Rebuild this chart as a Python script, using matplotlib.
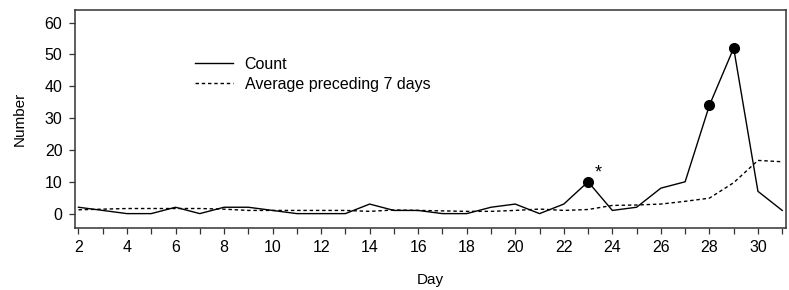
import numpy as np
import matplotlib
matplotlib.use('Agg')
import matplotlib.pyplot as plt

# days 2..31
days = list(range(2, 32))
count = [2, 1, 0, 0, 2, 0, 2, 2, 1, 0, 0, 0, 3, 1, 1,
         0, 0, 2, 3, 0, 3, 10, 1, 2, 8, 10, 34, 52, 7, 1]
avg7 = [1.2, 1.4, 1.6, 1.6, 1.6, 1.6, 1.4, 1.0, 1.0, 1.0, 1.0, 1.0, 0.71, 1.14, 1.0,
        0.86, 0.71, 0.71, 1.0, 1.43, 1.0, 1.29, 2.57, 2.71, 3.0, 3.86, 4.86, 9.71, 16.71, 16.29]
flag_days = [23, 28, 29]
star_day = 23
xlabels = [str(d) if d % 2 == 0 else '' for d in days]

plt.rcParams['font.family'] = ['Liberation Sans', 'DejaVu Sans']
plt.rcParams['font.size'] = 11

fig = plt.figure(figsize=(7.89, 2.90), dpi=100)
ax = fig.add_axes([0.095, 0.214, 0.901, 0.752])

ax.plot(days, count, color='black', lw=1.0, label='Count')
ax.plot(days, avg7, color='black', lw=1.0, dashes=(2.5, 2), label='Average preceding 7 days')
fy = [count[days.index(d)] for d in flag_days]
ax.plot(flag_days, fy, 'o', color='black', ms=7)
ax.annotate('*', (star_day, count[days.index(star_day)]), xytext=(5, 0),
            textcoords='offset points', fontsize=13, ha='left', va='bottom')

ax.set_xlim(1.856, 31.15)
ax.set_ylim(-4.5, 64)
ax.set_xticks(days)
ax.set_xticklabels(xlabels, fontsize=11.5)
ax.set_yticks(range(0, 61, 10))
ax.tick_params(axis='both', direction='out', length=4, width=0.9, color='#333333', pad=5)
ax.tick_params(axis='y', labelsize=11.5)
for s in ax.spines.values():
    s.set_linewidth(1.1)
    s.set_color('#333333')

ax.set_xlabel('Day', fontsize=11, labelpad=13)
ax.set_ylabel('Number', fontsize=11, labelpad=13)

ax.legend(loc='upper left', bbox_to_anchor=(195 / 789, 1 - 57 / 290),
          bbox_transform=fig.transFigure, frameon=False, borderpad=0,
          borderaxespad=0, handlelength=2.4, handletextpad=0.7,
          labelspacing=0.3, fontsize=11.5)

fig.savefig('out.png', dpi=100)
